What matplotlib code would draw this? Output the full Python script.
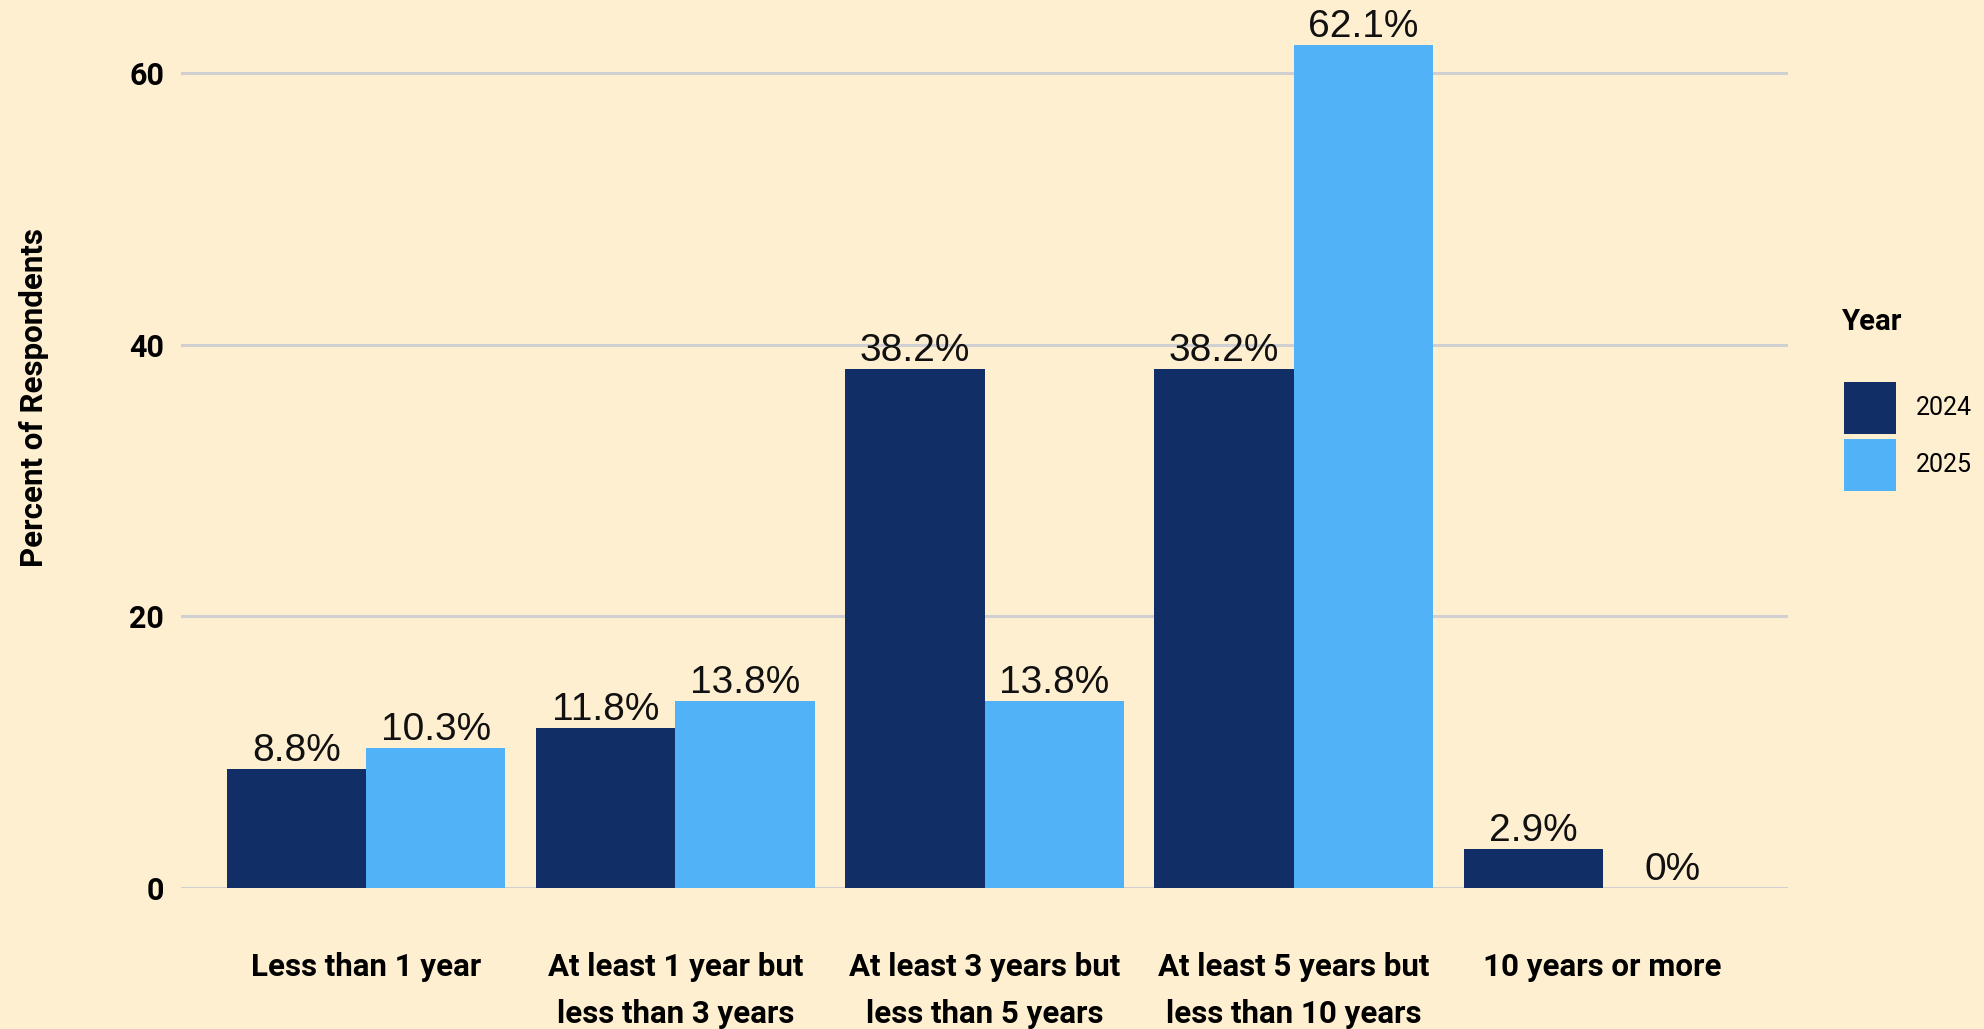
import matplotlib
matplotlib.use("Agg")
import matplotlib.pyplot as plt
import numpy as np

# data
categories = ["Less than 1 year",
              "At least 1 year but\nless than 3 years",
              "At least 3 years but\nless than 5 years",
              "At least 5 years but\nless than 10 years",
              "10 years or more"]
pct_2024 = [8.8, 11.8, 38.2, 38.2, 2.9]
pct_2025 = [10.3, 13.8, 13.8, 62.1, 0.0]
labels_2024 = ["8.8%", "11.8%", "38.2%", "38.2%", "2.9%"]
labels_2025 = ["10.3%", "13.8%", "13.8%", "62.1%", "0%"]
years = ["2024", "2025"]
yticks = [0, 20, 40, 60]

bg = "#FEEFD0"
c24 = "#112E66"
c25 = "#52B2F7"

W, H = 1984, 1029
fig = plt.figure(figsize=(W / 100, H / 100), dpi=100, facecolor=bg)
ax = fig.add_axes([181 / W, 141 / H, 1607 / W, 882.5 / H])
ax.set_facecolor(bg)

x = np.arange(len(categories))
bw = 0.45
b1 = ax.bar(x - bw / 2, pct_2024, width=bw, color=c24, label=years[0], zorder=3)
b2 = ax.bar(x + bw / 2, pct_2025, width=bw, color=c25, label=years[1], zorder=3)

for bars, labs in ((b1, labels_2024), (b2, labels_2025)):
    for rect, lab in zip(bars, labs):
        ax.annotate(lab, (rect.get_x() + rect.get_width() / 2, rect.get_height()),
                    xytext=(0, 0), textcoords="offset points",
                    ha="center", va="bottom", fontsize=28,
                    family="Liberation Sans", color="#111111", zorder=4)

ax.set_xlim(-0.6, 4.6)
ax.set_ylim(0, 65)
ax.set_yticks(yticks)
ax.set_yticklabels([str(t) for t in yticks], fontsize=22, fontweight="bold",
                   family="Roboto")
ax.yaxis.grid(True, color="#D0D0D2", lw=2.2, zorder=0)
ax.set_xticks(x)
ax.set_xticklabels(categories, fontsize=22.5, fontweight="bold", family="Roboto",
                   linespacing=1.72)
ax.tick_params(axis="x", length=0, pad=46)
ax.tick_params(axis="y", length=0, pad=12)
for s in ax.spines.values():
    s.set_visible(False)

fig.text(34 / W, 1 - 398 / H, "Percent of Respondents", rotation=90,
         ha="center", va="center", fontsize=22.5, fontweight="bold", family="Roboto")

fig.text(1842 / W, 1 - 322 / H, "Year", ha="left", va="center",
         fontsize=21, fontweight="bold", family="Roboto")
fig.legend(handles=[b1, b2], labels=years, loc="upper left",
           bbox_to_anchor=(1844 / W, 1 - 382 / H), frameon=False,
           borderaxespad=0, borderpad=0,
           prop={"family": "Roboto", "size": 18},
           handlelength=2.08, handleheight=2.82, handletextpad=0.8,
           labelspacing=0.2)

fig.savefig("out.png", dpi=100, facecolor=bg)
